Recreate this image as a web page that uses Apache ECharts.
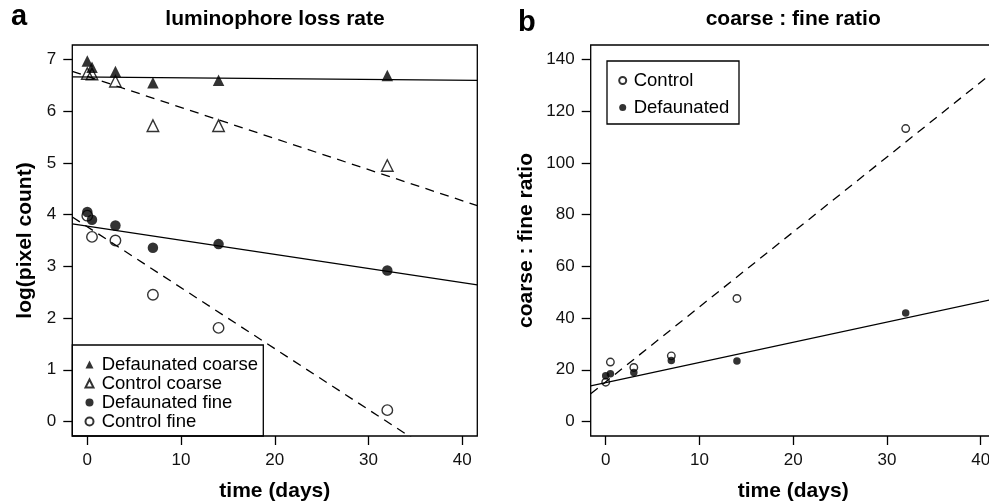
<!DOCTYPE html>
<html>
<head>
<meta charset="utf-8">
<script src="https://cdn.jsdelivr.net/npm/echarts@6/dist/echarts.min.js"></script>
<style>
html,body{margin:0;padding:0;background:#fff;}
#chart{width:989px;height:504px;}
</style>
</head>
<body>
<div id="chart"></div>
<script>
// ---- data ----
var days = [0, 0.5, 3, 7, 14, 32];
// panel a: log(pixel count)
var defaunatedCoarse = [6.97, 6.85, 6.77, 6.55, 6.60, 6.69];
var controlCoarse    = [6.73, 6.72, 6.58, 5.72, 5.72, 4.95];
var defaunatedFine   = [4.05, 3.90, 3.79, 3.36, 3.43, 2.92];
var controlFine      = [3.98, 3.57, 3.50, 2.45, 1.81, 0.22];
// panel b: coarse : fine ratio
var controlRatio    = [15.2, 23.0, 20.9, 25.4, 47.6, 113.3];
var defaunatedRatio = [17.7, 18.5, 19.0, 23.6, 23.4, 42.0];
// fitted regression lines [intercept, slope]
var fitDefCoarse = [6.66, -0.0015];
var fitCtrlCoarse = [6.674, -0.0601];
var fitDefFine = [3.776, -0.02726];
var fitCtrlFine = [3.766, -0.1179];
var fitCtrlRatio = [15.34, 2.898];
var fitDefRatio = [15.05, 0.78];
// tick labels
var xTicks = [0, 10, 20, 30, 40];
var yTicksA = [0, 1, 2, 3, 4, 5, 6, 7];
var yTicksB = [0, 20, 40, 60, 80, 100, 120, 140];

var X_MIN = -1.6, X_MAX = 41.6;
var FONT = "'Liberation Sans', Arial, Helvetica, sans-serif";

function pts(xs, ys) { return xs.map(function (x, i) { return [x, ys[i]]; }); }
function fitLine(p) { return [[X_MIN, p[0] + p[1] * X_MIN], [X_MAX, p[0] + p[1] * X_MAX]]; }

var chart = echarts.init(document.getElementById('chart'), null, {renderer: 'canvas'});

var gridCommon = {show: true, borderColor: '#000', borderWidth: 1.3, backgroundColor: 'transparent',
  containLabel: false, outerBoundsMode: 'none'};

function xAxis(gridIndex) {
  return {
    type: 'value', gridIndex: gridIndex, min: X_MIN, max: X_MAX, position: 'bottom',
    name: 'time (days)', nameLocation: 'middle', nameGap: 45,
    nameTextStyle: {fontFamily: FONT, fontSize: 21, fontWeight: 'bold', color: '#000'},
    axisLine: {show: false, onZero: false},
    axisTick: {show: true, inside: false, length: 9, customValues: xTicks, lineStyle: {color: '#000', width: 1.3}},
    axisLabel: {show: true, customValues: xTicks, margin: 16, fontFamily: FONT, fontSize: 17, color: '#111'},
    splitLine: {show: false}
  };
}
function yAxis(gridIndex, min, max, ticks, name, gap) {
  return {
    type: 'value', gridIndex: gridIndex, min: min, max: max, position: 'left',
    name: name, nameLocation: 'middle', nameGap: gap, nameRotate: 90,
    nameTextStyle: {fontFamily: FONT, fontSize: 21, fontWeight: 'bold', color: '#000'},
    axisLine: {show: false, onZero: false},
    axisTick: {show: true, inside: false, length: 9, customValues: ticks, lineStyle: {color: '#000', width: 1.3}},
    axisLabel: {show: true, customValues: ticks, margin: 16, fontFamily: FONT, fontSize: 17, color: '#111'},
    splitLine: {show: false}
  };
}

var openStyle = {color: 'rgba(255,255,255,0)', borderColor: '#000', borderWidth: 1.4};
var filledStyle = {color: '#000', borderColor: '#000', borderWidth: 0};
var solid = {color: '#000', width: 1.3, type: 'solid'};
var dashed = {color: '#000', width: 1.3, type: [9, 6.5]};

function scatter(name, xi, yi, data, symbol, size, style) {
  return {name: name, type: 'scatter', xAxisIndex: xi, yAxisIndex: yi, data: data,
    symbol: symbol, symbolSize: size, itemStyle: style, z: 3, emphasis: {disabled: true}};
}
function line(name, xi, yi, data, ls) {
  return {name: name, type: 'line', xAxisIndex: xi, yAxisIndex: yi, data: data, clip: true,
    showSymbol: false, symbol: 'none', lineStyle: ls, z: 2, silent: true, emphasis: {disabled: true}};
}

var option = {
  animation: false,
  backgroundColor: '#fff',
  textStyle: {fontFamily: FONT},
  grid: [
    Object.assign({left: 72.3, top: 45, width: 405, height: 391}, gridCommon),
    Object.assign({left: 590.7, top: 45, width: 405, height: 391}, gridCommon)
  ],
  xAxis: [xAxis(0), xAxis(1)],
  yAxis: [
    yAxis(0, -0.28, 7.28, yTicksA, 'log(pixel count)', 37),
    yAxis(1, -5.6, 145.6, yTicksB, 'coarse : fine ratio', 53.5)
  ],
  legend: [
    {
      orient: 'vertical', left: 84.5, top: 355, itemWidth: 8, itemHeight: 8, itemGap: 0,
      padding: 0, selectedMode: false,
      textStyle: {fontFamily: FONT, fontSize: 18.5, lineHeight: 18.6, color: '#000', padding: [0, 0, 0, 3.2]},
      data: ['Defaunated coarse', 'Control coarse', 'Defaunated fine', 'Control fine']
    },
    {
      orient: 'vertical', left: 618.2, top: 71, itemWidth: 7, itemHeight: 7, itemGap: 8,
      padding: 0, selectedMode: false,
      textStyle: {fontFamily: FONT, fontSize: 18.5, lineHeight: 18, color: '#000', padding: [0, 0, 0, 2.5]},
      data: ['Control', 'Defaunated']
    }
  ],
  graphic: [
    {type: 'rect', shape: {x: 72.3, y: 345, width: 191, height: 91}, style: {fill: 'none', stroke: '#000', lineWidth: 1.3}, z: 10},
    {type: 'rect', shape: {x: 607, y: 61, width: 132, height: 63}, style: {fill: 'none', stroke: '#000', lineWidth: 1.3}, z: 10},
    {type: 'text', x: 11, y: 16.5, style: {text: 'a', font: 'bold 29px ' + FONT, fill: '#000', align: 'left', verticalAlign: 'middle'}},
    {type: 'text', x: 518, y: 23, style: {text: 'b', font: 'bold 29px ' + FONT, fill: '#000', align: 'left', verticalAlign: 'middle'}},
    {type: 'text', x: 275, y: 19, style: {text: 'luminophore loss rate', font: 'bold 21px ' + FONT, fill: '#000', align: 'center', verticalAlign: 'middle'}},
    {type: 'text', x: 793.2, y: 19, style: {text: 'coarse : fine ratio', font: 'bold 21px ' + FONT, fill: '#000', align: 'center', verticalAlign: 'middle'}}
  ],
  series: [
    line('fit control coarse', 0, 0, fitLine(fitCtrlCoarse), dashed),
    line('fit defaunated coarse', 0, 0, fitLine(fitDefCoarse), solid),
    line('fit control fine', 0, 0, fitLine(fitCtrlFine), dashed),
    line('fit defaunated fine', 0, 0, fitLine(fitDefFine), solid),
    scatter('Control coarse', 0, 0, pts(days, controlCoarse), 'triangle', 11.5, openStyle),
    scatter('Control fine', 0, 0, pts(days, controlFine), 'circle', 10.5, openStyle),
    scatter('Defaunated coarse', 0, 0, pts(days, defaunatedCoarse), 'triangle', 11.5, filledStyle),
    scatter('Defaunated fine', 0, 0, pts(days, defaunatedFine), 'circle', 10.5, filledStyle),

    line('fit control ratio', 1, 1, fitLine(fitCtrlRatio), dashed),
    line('fit defaunated ratio', 1, 1, fitLine(fitDefRatio), solid),
    scatter('Control', 1, 1, pts(days, controlRatio), 'circle', 7.5, openStyle),
    scatter('Defaunated', 1, 1, pts(days, defaunatedRatio), 'circle', 7.5, filledStyle)
  ]
};
chart.setOption(option);
</script>
</body>
</html>
